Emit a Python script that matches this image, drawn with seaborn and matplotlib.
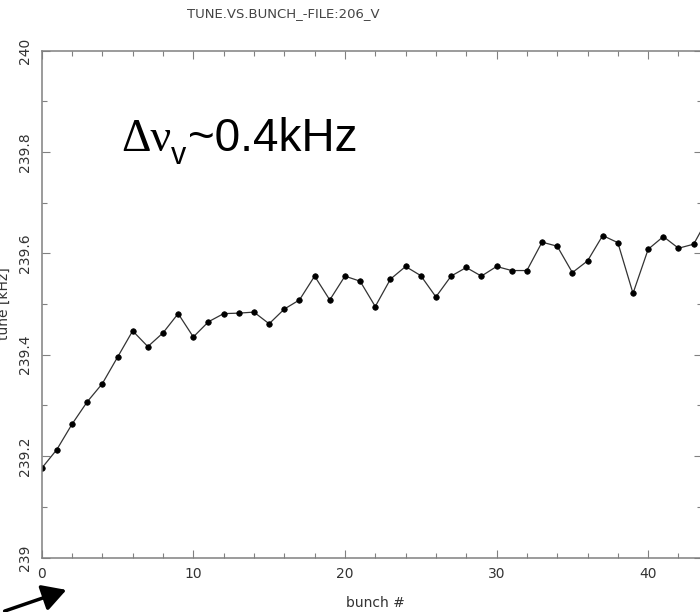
"""
Tune vs bunch number, vertical plane (file 206_V).
Recreated with seaborn / matplotlib, saved to out.png.
"""

import numpy as np
import pandas as pd
import matplotlib
matplotlib.use("Agg")
import matplotlib.pyplot as plt
from matplotlib.ticker import MultipleLocator, FormatStrFormatter
import seaborn as sns

# data
bunch = list(range(0, 45))
tune_khz = [239.176, 239.213, 239.263, 239.307, 239.343, 239.395, 239.447, 239.416,
            239.443, 239.481, 239.435, 239.465, 239.481, 239.482, 239.484, 239.461,
            239.490, 239.508, 239.555, 239.508, 239.555, 239.545, 239.495, 239.549,
            239.574, 239.556, 239.514, 239.555, 239.572, 239.555, 239.574, 239.566,
            239.566, 239.622, 239.614, 239.562, 239.585, 239.635, 239.621, 239.521,
            239.608, 239.633, 239.610, 239.618, 239.672]

title_text = "TUNE.VS.BUNCH_-FILE:206_V"
x_label = "bunch #"
y_label = "tune [kHz]"
note_main = "Δν"
note_sub = "v"
note_rest = "~0.4kHz"

df = pd.DataFrame({"bunch": bunch, "tune": tune_khz})

sns.set_style("ticks")
plt.rcParams["font.family"] = ["DejaVu Sans"]

W, H = 700, 612
fig = plt.figure(figsize=(W / 100, H / 100), dpi=100)
fig.patch.set_facecolor("white")

# axes box in pixels: left 41.7, right 702 (just past the edge), top 50.5, bottom 557.5
left, right, top, bottom = 41.7, 702.0, 50.5, 557.5
ax = fig.add_axes([left / W, (H - bottom) / H, (right - left) / W, (bottom - top) / H])
ax.set_facecolor("white")

sns.lineplot(data=df, x="bunch", y="tune", ax=ax, color="#333333", linewidth=0.9,
             marker="o", markersize=4, markerfacecolor="black",
             markeredgecolor="black", markeredgewidth=0.5)

ax.set_xlim(0, 43.55)
ax.set_ylim(239, 240)

ax.xaxis.set_major_locator(MultipleLocator(10))
ax.xaxis.set_minor_locator(MultipleLocator(2))
ax.yaxis.set_major_locator(MultipleLocator(0.2))
ax.yaxis.set_minor_locator(MultipleLocator(0.1))
ax.yaxis.set_major_formatter(FormatStrFormatter("%g"))

gray = "#808080"
for s in ax.spines.values():
    s.set_visible(True)
    s.set_color(gray)
    s.set_linewidth(1.1)

ax.tick_params(which="both", direction="in", top=True, right=True, color=gray,
               width=0.8, labelcolor="#333333", labelsize=10)
ax.tick_params(which="major", length=6, pad=7)
ax.tick_params(which="minor", length=3.6)
for lab in ax.get_yticklabels():
    lab.set_rotation(90)
    lab.set_va("center")

ax.set_xlabel(x_label, fontsize=10, color="#333333")
ax.set_ylabel(y_label, fontsize=10, color="#333333")
ax.xaxis.set_label_coords(0.506, -0.075)
ax.yaxis.set_label_coords(-0.046, 0.5)

fig.text(283 / W, 1 - 14 / H, title_text, ha="center", va="center",
         fontsize=9.5, color="#444444")

# big annotation, built from three pieces so the subscript sits low like the original
t1 = fig.text(121 / W, 1 - 150.7 / H, note_main, ha="left", va="baseline",
              fontsize=33, color="black", family=["Liberation Serif", "DejaVu Serif"])
t2 = ax.annotate(note_sub, xy=(1, 0), xycoords=t1, xytext=(0, -3),
                 textcoords="offset pixels", ha="left", va="baseline",
                 fontsize=22, color="black", family=["Liberation Sans", "DejaVu Sans"],
                 annotation_clip=False)
t3 = ax.annotate(note_rest, xy=(1, 0), xycoords=(t2, t1), xytext=(1, 0),
                 textcoords="offset pixels", ha="left", va="bottom",
                 fontsize=33, color="black", family=["Liberation Sans", "DejaVu Sans"],
                 annotation_clip=False)

# arrow at the lower left
fig.add_artist(matplotlib.patches.FancyArrowPatch(
    (2 / W, 1 - 612 / H), (69 / W, 1 - 589 / H), transform=fig.transFigure,
    arrowstyle="-|>,head_length=0.8,head_width=0.45", mutation_scale=18,
    color="black", linewidth=2.5))

fig.savefig("out.png", dpi=100, facecolor="white")
plt.close(fig)
